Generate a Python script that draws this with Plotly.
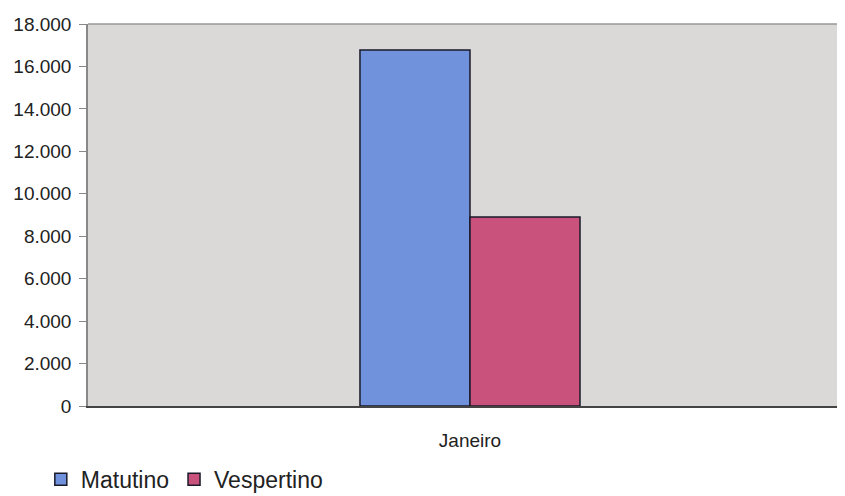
import plotly.graph_objects as go

categories = ["Janeiro"]
series_names = ["Matutino", "Vespertino"]
matutino = [16780]
vespertino = [8900]
colors = ["#7092dc", "#c9527c"]

fig = go.Figure()
for name, vals, col in zip(series_names, [matutino, vespertino], colors):
    fig.add_trace(go.Bar(
        x=categories, y=vals, name=name,
        marker=dict(color=col, line=dict(color="#1a1a2a", width=1.5)),
    ))

fig.update_layout(
    width=829, height=488,
    margin=dict(l=80, r=0, t=16, b=90),
    paper_bgcolor="white",
    plot_bgcolor="#dbd8d8",
    barmode="group",
    bargap=0.712,
    bargroupgap=0,
    separators=",.",
    font=dict(family="Liberation Sans, Arial, sans-serif", color="#222"),
    showlegend=True,
    legend=dict(
        orientation="h", x=-0.063, xanchor="left",
        yref="container", y=0.034, yanchor="middle",
        font=dict(size=23, color="#222"), itemwidth=30, tracegroupgap=0,
        bgcolor="rgba(0,0,0,0)",
    ),
    xaxis=dict(
        range=[-0.5, 0.4804], showgrid=False, zeroline=False,
        showline=True, linecolor="#444", linewidth=1.5,
        ticks="", ticklabelstandoff=16, automargin=False,
        tickfont=dict(size=19, color="#222"),
    ),
    yaxis=dict(
        range=[0, 18000], dtick=2000, tickformat=",d",
        showgrid=False, zeroline=False, automargin=False,
        showline=True, linecolor="#888", linewidth=1.5,
        ticks="outside", ticklen=7, tickcolor="#888",
        ticklabelstandoff=4,
        tickfont=dict(size=19, color="#222"),
    ),
)
fig.add_shape(type="line", xref="paper", yref="paper", x0=0, x1=1, y0=1, y1=1,
              line=dict(color="#999", width=1.5))

fig.write_html("out.html")
